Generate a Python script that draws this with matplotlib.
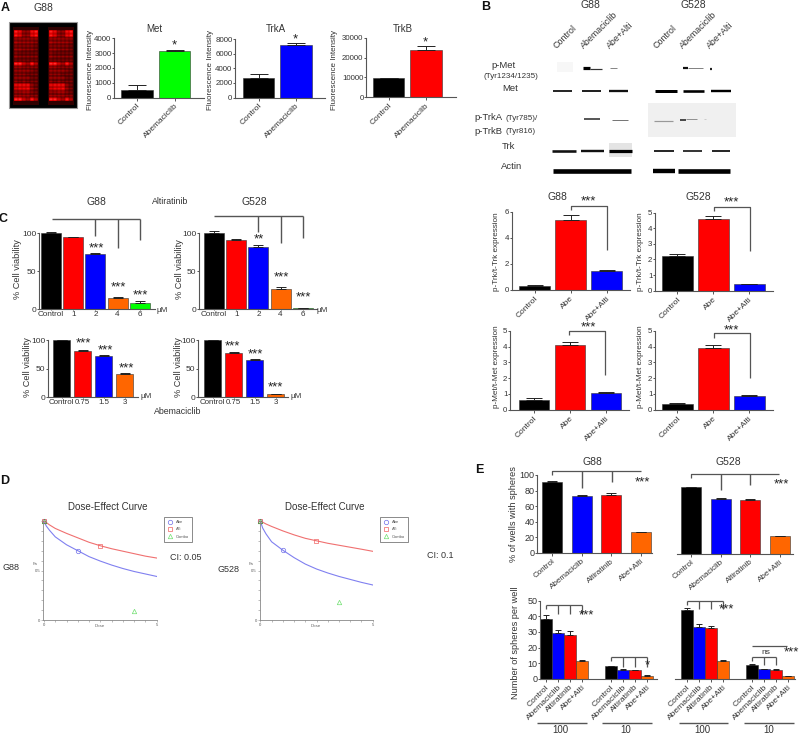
import numpy as np
import matplotlib
matplotlib.use('Agg')
import matplotlib.pyplot as plt
from matplotlib.colors import LinearSegmentedColormap
from matplotlib.patches import Rectangle

plt.rcParams['font.family'] = ['Liberation Sans', 'DejaVu Sans']

W, H = 800, 734
BLACK, RED, BLUE, GREEN, ORANGE = '#000000', '#ff0000', '#0000ff', '#00ff00', '#ff6600'
TXT = '#333333'
LINE = '#555555'

# panel A
a_labels = ['Control', 'Abemaciclib']
met_vals, met_errs = [500, 3150], [330, 100]
trka_vals, trka_errs = [2650, 7150], [600, 250]
trkb_vals, trkb_errs = [9600, 24000], [100, 1700]

# panel A array, spot intensity per row for one block
spot_rows = [
    [.95, .75, .4, .4, .8, .95],
    [.9, .7, .4, .4, .75, .9],
    [.4, .4, .4, .4, .4, .4],
    [.45, .4, .4, .4, .4, .35],
    [.35, .35, .35, .35, .35, .3],
    [.4, .4, .35, .35, .35, .3],
    [.35, .3, .3, .3, .3, .3],
    [.4, .35, .35, .35, .35, .35],
    [.3, .3, .3, .3, .3, .3],
    [1., 1., .6, .45, .9, .5],
    [.4, .4, .35, .35, .35, .35],
    [.4, .4, .4, .4, .35, .3],
    [.35, .35, .35, .3, .3, .3],
    [.4, .4, .4, .4, .3, .3],
    [.35, .3, .35, .3, .3, .3],
    [.75, .8, .8, .8, .4, .3],
    [.6, .7, .7, .75, .4, .3],
    [.4, .4, .45, .45, .35, .3],
    [.4, .4, .4, .4, .35, .35],
    [1., 1., .6, .45, .9, .5],
]

# panel B quantification
b_labels = ['Control', 'Abe', 'Abe+Alti']
ptrk_g88, ptrk_g88_err = [0.3, 5.4, 1.45], [0.08, 0.35, 0.1]
ptrk_g528, ptrk_g528_err = [2.2, 4.6, 0.4], [0.15, 0.2, 0.05]
pmet_g88, pmet_g88_err = [0.63, 4.1, 1.07], [0.1, 0.22, 0.08]
pmet_g528, pmet_g528_err = [0.38, 3.95, 0.85], [0.06, 0.17, 0.06]

# panel C
alti_labels = ['Control', '1', '2', '4', '6']
alti_g88, alti_g88_err = [100, 94.5, 73, 15, 8], [1.5, 0.7, 1, 0.5, 2]
alti_g528, alti_g528_err = [100, 91, 82, 27, 1], [3, 2, 3, 1.5, 0.3]
abe_labels = ['Control', '0.75', '1.5', '3']
abe_g88, abe_g88_err = [100, 81, 72.5, 41], [0.5, 0.7, 0.8, 1.2]
abe_g528, abe_g528_err = [100, 78, 65, 5], [0.3, 0.8, 1, 0.5]

# panel D, curves
dose = [0, 0.1, 0.25, 0.5, 1, 1.5, 2, 2.5, 3, 3.5, 4, 4.5, 5]
abe_fa_g88 = [1, 0.95, 0.905, 0.84, 0.76, 0.7, 0.64, 0.595, 0.555, 0.52, 0.49, 0.465, 0.44]
alli_fa_g88 = [1, 0.985, 0.96, 0.925, 0.875, 0.83, 0.785, 0.75, 0.72, 0.695, 0.67, 0.645, 0.626]
abe_fa_g528 = [1, 0.93, 0.87, 0.79, 0.705, 0.63, 0.565, 0.515, 0.475, 0.44, 0.41, 0.38, 0.354]
alli_fa_g528 = [1, 0.988, 0.97, 0.945, 0.9, 0.86, 0.825, 0.8, 0.775, 0.755, 0.735, 0.715, 0.694]
g88_pts = {'abe': (1.5, 0.7), 'alli': (2.49, 0.75), 'combo': (3.98, 0.094)}
g528_pts = {'abe': (0.99, 0.707), 'alli': (2.49, 0.8), 'combo': (3.48, 0.182)}

# panel E
e_labels = ['Control', 'Abemaciclib', 'Altiratinib', 'Abe+Alti']
wells_g88, wells_g88_err = [91, 73.5, 74.5, 26.5], [1, 1.2, 2, 0.8]
wells_g528, wells_g528_err = [84.5, 69, 68.5, 22], [0.8, 1.5, 1, 0.6]
spheres_g88 = [38, 29.5, 28, 11.5, 8, 5.8, 5.3, 1.8]
spheres_g88_err = [2.7, 2, 2.3, 0.7, 0.3, 0.5, 0.5, 0.3]
spheres_g528 = [44, 33.5, 32.5, 11.2, 9.2, 6.2, 5.8, 1.8]
spheres_g528_err = [1.6, 1.7, 1.5, 1, 0.4, 0.4, 0.5, 0.4]

fig = plt.figure(figsize=(8, 7.34), dpi=100)

# full figure overlay, pixel coordinates, for texts, brackets and blots
ov = fig.add_axes([0, 0, 1, 1], zorder=5)
ov.patch.set_alpha(0)
ov.axis('off')


def txt(x, y, s, size=6.5, rot=0, ha='center', va='center', **kw):
    ov.text(x, y, s, fontsize=size, rotation=rot, ha=ha, va=va, color=kw.pop('color', TXT),
            rotation_mode='anchor', **kw)


def stars(x, y, s='***'):
    # asterisks sit high in the line
    txt(x, y + 2.5, s, size=9.5, color='#222222')


def seg(xs, ys, lw=0.9, color=LINE):
    ov.plot(xs, ys, color=color, lw=lw, solid_capstyle='butt')


def bar_panel(box, ymax, yticks, vals, errs, cols, labels, c0, step, width=0.85, pos=None,
              rot=45, show_y=True, lab_size=6, tick_size=5.7):
    l, r, y0, ytop = box
    ax = fig.add_axes([l / W, 1 - y0 / H, (r - l) / W, (y0 - ytop) / H])
    x = np.arange(len(vals)) if pos is None else np.array(pos)
    ax.bar(x, vals, width=width, color=cols, edgecolor='#333333', linewidth=0.4)
    ax.errorbar(x, vals, yerr=[np.zeros(len(vals)), errs], fmt='none', ecolor='#222222',
                elinewidth=0.7, capsize=width * step * 0.27 * 0.72, capthick=0.7, clip_on=False)
    ax.set_xlim((l - c0) / step, (r - c0) / step)
    ax.set_ylim(0, ymax)
    ax.patch.set_alpha(0)
    for s in ['top', 'right']:
        ax.spines[s].set_visible(False)
    ax.spines['bottom'].set_color(LINE)
    ax.spines['left'].set_color(LINE)
    ax.spines['bottom'].set_linewidth(0.8)
    ax.spines['left'].set_linewidth(0.8)
    ax.set_xticks(x)
    if rot:
        ax.set_xticklabels(labels, rotation=rot, ha='right', rotation_mode='anchor',
                           fontsize=lab_size, color=TXT)
        ax.tick_params(axis='x', length=2, width=0.7, color=LINE, pad=1.5)
    else:
        ax.set_xticklabels(labels, fontsize=lab_size, color=TXT)
        ax.tick_params(axis='x', length=1, width=0.7, color=LINE, pad=0.5)
    if show_y:
        ax.set_yticks(yticks)
        ax.tick_params(axis='y', length=1.5, width=0.7, color=LINE, pad=0.3, labelsize=tick_size,
                       labelcolor=TXT)
    else:
        ax.spines['left'].set_visible(False)
        ax.set_yticks([])
    return ax


# ---- A ----
txt(5, 8, 'A', size=9, fontweight='bold', color='#111111')
txt(43, 8, 'G88', size=7.5)
# each spot gets a small bright centre so the grid stays visible
spot_mask = np.array([[0.5, 0.65, 0.5], [0.75, 1.0, 0.75], [0.5, 0.65, 0.5]])
block = np.kron(np.array(spot_rows), spot_mask)
array_cmap = LinearSegmentedColormap.from_list('array', ['#000000', '#a80000', '#ff0000', '#ff5050'])
ov.add_patch(Rectangle((8.7, 21.7), 68.6, 86.6, fc='black', ec='#999999', lw=0.8))
ov.add_patch(Rectangle((13, 27), 26, 78, fc='#300000', ec='none', zorder=1.5))
ov.add_patch(Rectangle((48, 27), 25.5, 78, fc='#300000', ec='none', zorder=1.5))
ov.imshow(block, extent=(14, 37.5, 101, 30.5), cmap=array_cmap, vmin=0, vmax=1,
          interpolation='bilinear', aspect='auto', zorder=2)
ov.imshow(block, extent=(48.5, 72.5, 101, 30.5), cmap=array_cmap, vmin=0, vmax=1,
          interpolation='bilinear', aspect='auto', zorder=2)

bar_panel((114, 204, 97.5, 38.5), 4000, [0, 1000, 2000, 3000, 4000], met_vals, met_errs,
          [BLACK, GREEN], a_labels, 137, 37.5)
bar_panel((235, 325, 97.5, 39), 8000, [0, 2000, 4000, 6000, 8000], trka_vals, trka_errs,
          [BLACK, BLUE], a_labels, 258.5, 37.5)
bar_panel((366, 456, 97, 38), 30000, [0, 10000, 20000, 30000], trkb_vals, trkb_errs,
          [BLACK, RED], a_labels, 388.5, 37.5)
for x, name, sx, sy in [(154, 'Met', 174, 43), (276, 'TrkA', 295, 37), (403, 'TrkB', 425.7, 40)]:
    txt(x, 29, name, size=7)
    stars(sx, sy, '*')
txt(90.5, 70, 'Fluorescence Intensity', size=5.8, rot=90)
txt(210, 70, 'Fluorescence Intensity', size=5.8, rot=90)
txt(335, 70, 'Fluorescence Intensity', size=5.8, rot=90)

# ---- B blots ----
txt(486, 7, 'B', size=9, fontweight='bold', color='#111111')
txt(590.7, 5, 'G88', size=7.5)
txt(693, 5, 'G528', size=7.5)
for x, name in [(558, 'Control'), (585, 'Abemaciclib'), (611, 'Abe+Alti'),
                (658, 'Control'), (684, 'Abemaciclib'), (711, 'Abe+Alti')]:
    txt(x, 50, name, size=6.4, rot=45, ha='left', va='bottom')
txt(504, 66, 'p-Met', size=6.8)
txt(511, 76, '(Tyr1234/1235)', size=5.8)
txt(510, 88.7, 'Met', size=6.8)
ov.text(474, 117, 'p-TrkA', fontsize=6.8, color=TXT, va='center')
ov.text(505, 118, '(Tyr785)/', fontsize=5.8, color=TXT, va='center')
ov.text(474, 131, 'p-TrkB', fontsize=6.8, color=TXT, va='center')
ov.text(505, 131.5, '(Tyr816)', fontsize=5.8, color=TXT, va='center')
txt(508.7, 146.7, 'Trk', size=6.8)
txt(512, 166.7, 'Actin', size=6.8)

ov.add_patch(Rectangle((648, 102.7), 87.7, 34.3, fc='#f0f0f0', ec='none'))
ov.add_patch(Rectangle((609, 143), 23, 14, fc='#e4e4e4', ec='none'))
ov.add_patch(Rectangle((557, 62), 16, 10, fc='#f7f7f7', ec='none'))

# band: x start, x end, y, thickness, grey
blot_bands = [
    (582.7, 590, 68, 3.2, '#000000'), (590, 601.7, 68.5, 1.2, '#333333'), (610, 616.7, 68, 1.0, '#888888'),
    (683, 688, 68, 2.2, '#111111'), (688, 703, 68, 0.8, '#666666'), (710, 712, 68.5, 2.2, '#222222'),
    (553, 572, 91, 1.8, '#111111'), (581.7, 601, 91, 2.0, '#222222'), (609, 628, 90.5, 2.3, '#111111'),
    (655, 676.7, 91, 3.0, '#000000'), (682.7, 704, 91, 2.6, '#000000'), (710.7, 731, 90.5, 2.4, '#000000'),
    (584, 600, 119.3, 1.5, '#222222'), (611.7, 628, 120, 1.0, '#777777'),
    (654, 673, 121, 1.2, '#999999'), (680, 686, 119.5, 1.6, '#222222'), (686, 697, 119, 0.9, '#888888'),
    (704, 706, 119, 1.0, '#cccccc'),
    (552, 575.7, 150.5, 2.6, '#111111'), (581, 603.7, 151, 2.4, '#111111'), (609, 631.7, 150.5, 3.2, '#000000'),
    (654, 674, 151, 1.8, '#111111'), (683, 702, 151, 1.8, '#222222'), (711.7, 729.7, 150.5, 1.8, '#111111'),
    (553, 631, 170.5, 4.6, '#000000'), (653, 675, 170.5, 4.4, '#000000'), (678, 730, 170.5, 4.6, '#000000'),
]
for x1, x2, y, th, grey in blot_bands:
    ov.plot([x1, x2], [y, y], color=grey, lw=th * 0.72, solid_capstyle='butt')

# ---- B quantification ----
b_cols = [BLACK, RED, BLUE]
bar_panel((511.7, 630, 290, 212), 6, [0, 2, 4, 6], ptrk_g88, ptrk_g88_err, b_cols, b_labels, 534.5, 36)
bar_panel((655, 772.7, 290.7, 212.7), 5, range(6), ptrk_g528, ptrk_g528_err, b_cols, b_labels, 677.2, 36)
bar_panel((510, 629, 409.7, 331), 5, range(6), pmet_g88, pmet_g88_err, b_cols, b_labels, 534, 36)
bar_panel((655, 772.7, 409.7, 331), 5, range(6), pmet_g528, pmet_g528_err, b_cols, b_labels, 677.2, 36)
txt(557, 197, 'G88', size=7.5)
txt(698, 197, 'G528', size=7.5)
txt(497, 252, 'p-Trk/t-Trk expression', size=5.9, rot=90)
txt(640, 252, 'p-Trk/t-Trk expression', size=5.9, rot=90)
txt(497, 367, 'p-Met/t-Met expression', size=5.9, rot=90)
txt(640, 367, 'p-Met/t-Met expression', size=5.9, rot=90)
for xl, xr, top, down, sx, sy in [(570.7, 606.7, 205.7, 250, 588, 199), (713.7, 750, 206.7, 250.7, 731, 200),
                                  (569, 605, 330.7, 375, 588, 325), (713.7, 750, 333, 377.7, 731, 328)]:
    seg([xl, xl, xr, xr], [top + 4.5, top, top, down])
    stars(sx, sy)

# ---- C ----
txt(3, 219, 'C', size=9, fontweight='bold', color='#111111')
txt(96, 202, 'G88', size=7.5)
txt(170, 201, 'Altiratinib', size=6.3)
txt(254, 202, 'G528', size=7.5)
c_cols = [BLACK, RED, BLUE, ORANGE, GREEN]
bar_panel((39, 155, 309, 233.3), 100, [0, 50, 100], alti_g88, alti_g88_err, c_cols, alti_labels,
          51, 22.2, width=0.9, rot=0, lab_size=5.9, tick_size=6)
bar_panel((199, 317, 309, 233.3), 100, [0, 50, 100], alti_g528, alti_g528_err, c_cols, alti_labels,
          214, 22.2, width=0.9, rot=0, lab_size=5.9, tick_size=6)
bar_panel((48, 138, 397, 340), 100, [0, 50, 100], abe_g88, abe_g88_err, c_cols[:4], abe_labels,
          61.5, 21, width=0.82, rot=0, lab_size=5.7, tick_size=6)
bar_panel((198, 288, 397, 340), 100, [0, 50, 100], abe_g528, abe_g528_err, c_cols[:4], abe_labels,
          212.5, 21, width=0.82, rot=0, lab_size=5.7, tick_size=6)
txt(18, 269, '% Cell viability', size=6.6, rot=90)
txt(180, 269, '% Cell viability', size=6.6, rot=90)
txt(27, 367, '% Cell viability', size=6.6, rot=90)
txt(178.5, 367, '% Cell viability', size=6.6, rot=90)
txt(162, 311, 'µM', size=5.8)
txt(322, 311, 'µM', size=5.8)
txt(146, 396, 'µM', size=5.8)
txt(296, 396, 'µM', size=5.8)
txt(178, 412, 'Abemaciclib', size=6.3)
seg([52, 140], [219.3, 219.3], lw=1)
seg([95, 95], [219.3, 236], lw=1)
seg([118, 118], [219.3, 248], lw=1)
seg([140, 140], [219.3, 240], lw=1)
seg([214, 303], [216, 216], lw=1)
seg([258, 258], [216, 232], lw=1)
seg([281, 281], [216, 243], lw=1)
seg([303, 303], [216, 238], lw=1)
for x, y, s in [(96, 246, '***'), (118, 285, '***'), (140, 293, '***'), (258.5, 236.5, '**'),
                (281.5, 275, '***'), (303, 295, '***'), (83, 341, '***'), (105, 348, '***'),
                (126, 366, '***'), (232, 344, '***'), (255, 352, '***'), (275, 385, '***')]:
    stars(x, y, s)

# ---- D ----
txt(5, 481, 'D', size=9, fontweight='bold', color='#111111')


def dose_panel(l, r, abe, alli, pts, legend_x):
    ax = fig.add_axes([l / W, 1 - 620 / H, (r - l) / W, 99 / H])
    ax.plot(dose, abe, color='#8080f0', lw=0.8)
    ax.plot(dose, alli, color='#f07070', lw=0.8)
    ms = dict(ls='none', mfc='none', ms=3.2, mew=0.5, clip_on=False)
    h1, = ax.plot(*pts['abe'], marker='o', color='#7070e8', **ms)
    h2, = ax.plot(*pts['alli'], marker='s', color='#f06060', **ms)
    h3, = ax.plot(*pts['combo'], marker='^', color='#70e070', **ms)
    ax.plot(0, 1, marker='o', color='#7070e8', **ms)
    ax.plot(0, 1, marker='s', color='#f06060', **ms)
    ax.plot(0, 1, marker='^', color='#40a040', **ms)
    ax.set_xlim(-0.03, 5)
    ax.set_ylim(0, 1)
    ax.patch.set_alpha(0)
    for s in ['top', 'right']:
        ax.spines[s].set_visible(False)
    for s in ['left', 'bottom']:
        ax.spines[s].set_color('#888888')
        ax.spines[s].set_linewidth(0.6)
    ax.set_xticks([0, 5])
    ax.set_xticklabels(['0', '5'])
    ax.set_xticks(np.arange(0, 5.01, 0.5), minor=True)
    ax.set_yticks([0, 0.5])
    ax.set_yticklabels(['0', '0.5'])
    ax.set_yticks(np.arange(0, 1.01, 0.1), minor=True)
    ax.tick_params(which='both', length=1.2, width=0.4, color='#888888', labelsize=3, pad=1,
                   labelcolor='#555555')
    leg = ax.legend([h1, h2, h3], ['Abe', 'Alli', 'Combo'], loc='upper left',
                    bbox_to_anchor=(legend_x / W, 1 - 517 / H), bbox_transform=fig.transFigure,
                    fontsize=3, frameon=True, fancybox=False, edgecolor='#777777', framealpha=1,
                    borderaxespad=0, labelspacing=0.75, handletextpad=0.7, borderpad=0.8,
                    handlelength=1.5, labelcolor='#555555')
    leg.get_frame().set_linewidth(0.6)
    return ax


dose_panel(43.3, 156.7, abe_fa_g88, alli_fa_g88, g88_pts, 163.5)
dose_panel(259.7, 372.7, abe_fa_g528, alli_fa_g528, g528_pts, 379.5)
for x in [108, 325]:
    txt(x, 507, 'Dose-Effect Curve', size=7)
for x in [35, 251]:
    txt(x, 564, 'Fa', size=3, color='#666666')
for x in [100, 316]:
    txt(x, 626, 'Dose', size=3.2, color='#666666')
txt(11, 567, 'G88', size=6.5)
txt(229, 569, 'G528', size=6.5)
txt(186, 557, 'CI: 0.05', size=6.5)
txt(440, 555, 'CI: 0.1', size=6.5)

# ---- E ----
txt(479, 470, 'E', size=9, fontweight='bold', color='#111111')
e_cols = [BLACK, BLUE, RED, ORANGE]
txt(592, 462, 'G88', size=7.5)
txt(728, 462, 'G528', size=7.5)
bar_panel((537, 652, 553, 475), 100, [0, 20, 40, 60, 80, 100], wells_g88, wells_g88_err, e_cols, e_labels,
          552, 29.6, width=0.68, tick_size=6.5, rot=40, lab_size=5.8)
bar_panel((677, 793, 553.5, 475), 100, [], wells_g528, wells_g528_err, e_cols, e_labels,
          691, 29.6, width=0.68, show_y=False, rot=40, lab_size=5.8)
txt(514, 514, '% of wells with spheres', size=6.6, rot=90)
seg([551.7, 551.7, 640.5], [475, 470.7, 470.7])
seg([582, 582], [470.7, 487.7], lw=1)
seg([612, 612], [470.7, 482], lw=1)
seg([690.7, 690.7, 779], [478, 474, 474])
seg([720.7, 720.7], [474, 490], lw=1)
seg([750, 750], [474, 485], lw=1)
stars(642, 480)
stars(781, 482)

group_pos = [0, 1, 2, 3, 5.42, 6.42, 7.42, 8.42]
spheres_labels = e_labels * 2
sphere_cols = e_cols * 2
bar_panel((540, 657, 678.7, 600.7), 50, [0, 10, 20, 30, 40, 50], spheres_g88, spheres_g88_err, sphere_cols,
          spheres_labels, 546, 12, width=1.0, pos=group_pos, tick_size=6.5, lab_size=6.1)
bar_panel((675, 795, 679, 600.7), 50, [], spheres_g528, spheres_g528_err, sphere_cols,
          spheres_labels, 687, 12, width=1.0, pos=group_pos, show_y=False, lab_size=6.1)
txt(515, 643, 'Number of spheres per well', size=6.6, rot=90)

for xs, top, down in [((546, 558, 570, 582), 605, 614), ((611, 623, 635, 647), 657.3, 666.7),
                      ((687, 699, 711, 722.7), 600.7, 609), ((752, 763.7, 775.7), 657, 665)]:
    seg([xs[0], xs[-1]], [top, top])
    for x in xs:
        seg([x, x], [top, down if x != xs[0] else top + 4])
seg([752, 787], [646, 646])
stars(586.7, 612.7)
stars(647, 663, '*')
stars(726, 606.7)
stars(791, 650)
txt(765.7, 652.7, 'ns', size=6)
for x1, x2, cx, s in [(536.7, 586.7, 560, '100'), (601.7, 651.7, 625.7, '10'),
                      (679, 728, 702.7, '100'), (744, 794, 769, '10')]:
    seg([x1, x2], [722.7, 722.7], lw=1)
    txt(cx, 730, s, size=7)

ov.set_xlim(0, W)
ov.set_ylim(H, 0)

fig.savefig('out.png', dpi=100)
